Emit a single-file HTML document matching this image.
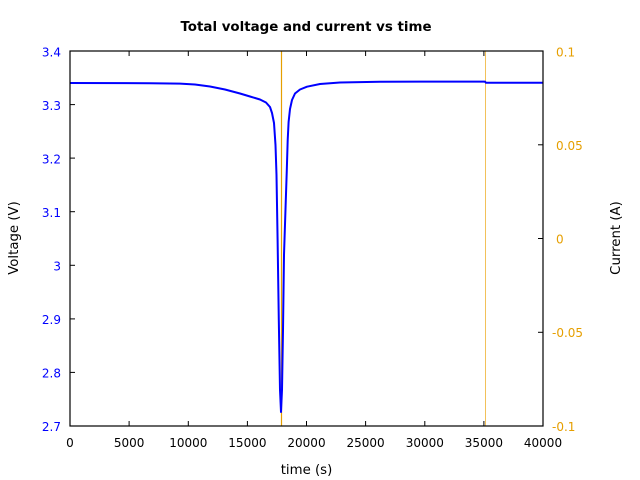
<!DOCTYPE html>
<html><head><meta charset="utf-8"><style>
html,body{margin:0;padding:0;background:#fff;}
svg{display:block;}
text{font-family:"DejaVu Sans","Liberation Sans",sans-serif;font-size:12px;}
</style></head><body>
<svg width="640" height="480" viewBox="0 0 640 480" xmlns="http://www.w3.org/2000/svg">
<rect width="640" height="480" fill="#fff"/>
<text x="306" y="31" text-anchor="middle" font-weight="bold" fill="#000" style="font-size:13.4px">Total voltage and current vs time</text>

<!-- orange current lines -->
<line x1="281.5" y1="51" x2="281.5" y2="426" stroke="#e69f00" stroke-width="1.2"/>
<line x1="485.5" y1="51" x2="485.5" y2="426" stroke="#f2c15a" stroke-width="1"/>

<!-- voltage curve -->
<polyline fill="none" stroke="#0000ff" stroke-width="2" stroke-linejoin="round" points="70,83 150,83.2 180,83.6 195,84.5 210,86.5 225,89.5 240,93.5 250,96.5 260,99.5 266,102.5 270,107 272,113 274,123 275.5,145 276.5,175 277.6,240 278.8,320 280,390 281,412 282,390 283,330 284,255 285.8,200 286.8,170 287.7,140 288.6,122 290,109 292,100 295,93.5 300,89.5 307,86.7 320,84 340,82.5 380,81.8 420,81.6 485,81.6 486,82.8 543,82.8"/>

<!-- frame -->
<rect x="70" y="51" width="473" height="375" fill="none" stroke="#000" stroke-width="1.2"/>

<!-- x ticks -->
<g stroke="#000" stroke-width="1">
<line x1="129.1" y1="426" x2="129.1" y2="421"/><line x1="188.3" y1="426" x2="188.3" y2="421"/>
<line x1="247.4" y1="426" x2="247.4" y2="421"/><line x1="306.5" y1="426" x2="306.5" y2="421"/>
<line x1="365.6" y1="426" x2="365.6" y2="421"/><line x1="424.8" y1="426" x2="424.8" y2="421"/>
<line x1="483.9" y1="426" x2="483.9" y2="421"/>
<line x1="129.1" y1="51" x2="129.1" y2="56"/><line x1="188.3" y1="51" x2="188.3" y2="56"/>
<line x1="247.4" y1="51" x2="247.4" y2="56"/><line x1="306.5" y1="51" x2="306.5" y2="56"/>
<line x1="365.6" y1="51" x2="365.6" y2="56"/><line x1="424.8" y1="51" x2="424.8" y2="56"/>
<line x1="483.9" y1="51" x2="483.9" y2="56"/>
<!-- left y ticks -->
<line x1="70" y1="104.6" x2="75" y2="104.6"/><line x1="70" y1="158.1" x2="75" y2="158.1"/>
<line x1="70" y1="211.7" x2="75" y2="211.7"/><line x1="70" y1="265.3" x2="75" y2="265.3"/>
<line x1="70" y1="318.9" x2="75" y2="318.9"/><line x1="70" y1="372.4" x2="75" y2="372.4"/>
<!-- right y ticks -->
<line x1="543" y1="144.8" x2="538" y2="144.8"/><line x1="543" y1="238.5" x2="538" y2="238.5"/>
<line x1="543" y1="332.3" x2="538" y2="332.3"/>
</g>

<!-- x tick labels -->
<g fill="#000" text-anchor="middle">
<text x="70" y="447">0</text><text x="129.1" y="447">5000</text><text x="188.3" y="447">10000</text>
<text x="247.4" y="447">15000</text><text x="306.5" y="447">20000</text><text x="365.6" y="447">25000</text>
<text x="424.8" y="447">30000</text><text x="483.9" y="447">35000</text><text x="543" y="447">40000</text>
<text x="306.5" y="474" style="font-size:13.3px">time (s)</text>
</g>

<!-- left labels -->
<g fill="#0000ff" text-anchor="end">
<text x="61" y="56.5">3.4</text><text x="61" y="110">3.3</text><text x="61" y="163.5">3.2</text>
<text x="61" y="217">3.1</text><text x="61" y="270.5">3</text><text x="61" y="324">2.9</text>
<text x="61" y="377.5">2.8</text><text x="61" y="431">2.7</text>
</g>
<text transform="translate(18,238) rotate(-90)" text-anchor="middle" fill="#000" style="font-size:13.3px">Voltage (V)</text>

<!-- right labels -->
<g fill="#e69f00" text-anchor="start">
<text x="556" y="56.5">0.1</text><text x="556" y="150">0.05</text><text x="556" y="243.5">0</text>
<text x="552" y="337">-0.05</text><text x="552" y="431">-0.1</text>
</g>
<text transform="translate(620,238) rotate(-90)" text-anchor="middle" fill="#000" style="font-size:13.3px">Current (A)</text>
</svg>
</body></html>
